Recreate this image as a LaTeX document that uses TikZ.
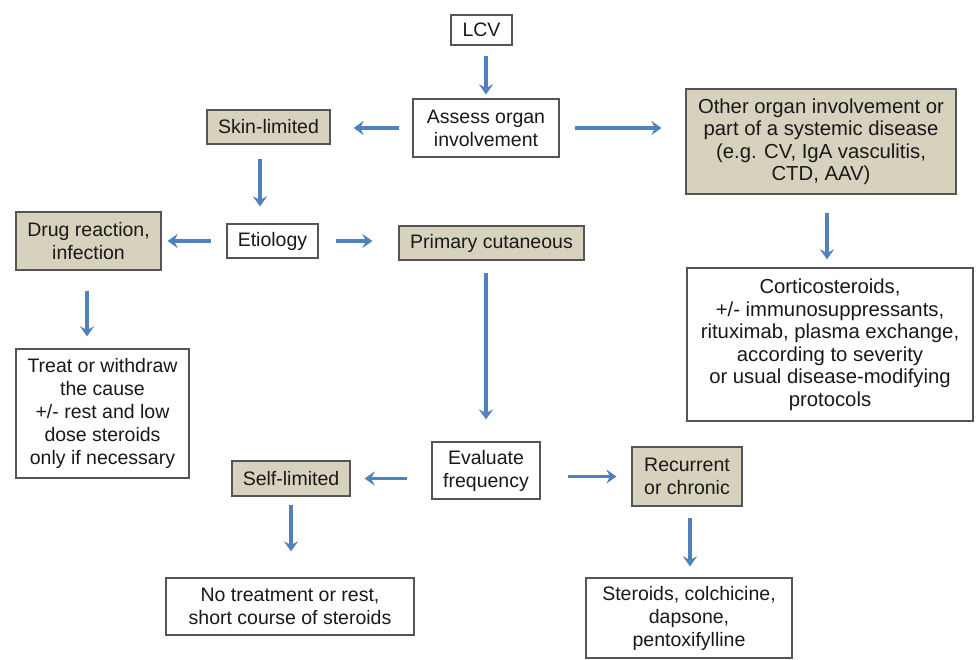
\documentclass[tikz,border=0pt]{standalone}
\usepackage{fontspec}
\setmainfont{Liberation Sans}
\usetikzlibrary{arrows.meta}
\definecolor{tanfill}{RGB}{215,210,189}
\definecolor{boxline}{RGB}{85,85,85}
\definecolor{arrowblue}{RGB}{79,129,189}
\definecolor{txt}{RGB}{25,25,25}
\tikzset{
  plainbox/.style={draw=boxline, line width=1.2pt, fill=white, inner sep=0pt, align=center, text=txt,
    font=\fontsize{19.5}{23}\selectfont},
  tanbox/.style={plainbox, fill=tanfill},
  bigtext/.style={font=\fontsize{20.3}{22.5}\selectfont},
  flow/.style={draw=arrowblue, line width=3.2pt, -{Stealth[length=10pt,width=14pt,inset=3.5pt]}}
}
\begin{document}
\begin{tikzpicture}[x=1pt,y=-1pt]
\useasboundingbox (0,0) rectangle (976,659);
\node[plainbox, minimum width=61pt, minimum height=30pt] (lcv) at (481.5,30) {LCV};
\node[plainbox, minimum width=146pt, minimum height=58pt] (assess) at (486,128) {Assess organ\\involvement};
\node[tanbox, bigtext, minimum width=270pt, minimum height=105pt] (other) at (821,141.5) {Other organ involvement or\\part of a systemic disease\\(e.g. CV, IgA vasculitis,\\CTD, AAV)};
\node[plainbox, bigtext, minimum width=286pt, minimum height=153pt] (cortico) at (830,344.5) {Corticosteroids,\\+/- immunosuppressants,\\rituximab, plasma exchange,\\according to severity\\or usual disease-modifying\\protocols};
\node[tanbox, minimum width=123pt, minimum height=34pt] (skin) at (268.5,127) {Skin-limited};
\node[plainbox, minimum width=91pt, minimum height=34pt] (etio) at (272.5,241) {Etiology};
\node[tanbox, minimum width=145pt, minimum height=58pt] (drug) at (88.5,241) {Drug reaction,\\infection};
\node[tanbox, minimum width=185pt, minimum height=34pt] (primary) at (491.5,243) {Primary cutaneous};
\node[plainbox, minimum width=173pt, minimum height=129pt] (treat) at (102.5,413.5) {Treat or withdraw\\the cause\\+/- rest and low\\dose steroids\\only if necessary};
\node[plainbox, minimum width=108pt, minimum height=57pt] (evaluate) at (486,470.5) {Evaluate\\frequency};
\node[tanbox, minimum width=118pt, minimum height=35pt] (self) at (291,478.5) {Self-limited};
\node[plainbox, minimum width=248pt, minimum height=57pt] (notreat) at (290,606.5) {No treatment or rest,\\short course of steroids};
\node[tanbox, minimum width=110pt, minimum height=59pt] (recurrent) at (687,476.5) {Recurrent\\or chronic};
\node[plainbox, minimum width=206pt, minimum height=80pt] (steroids) at (689,618) {Steroids, colchicine,\\dapsone,\\pentoxifylline};

\draw[flow, shorten <=10pt, shorten >=4pt] (lcv.south -| assess.north) -- (assess.north);
\draw[flow, shorten <=15pt, shorten >=24pt] (assess.east) -- (assess.east -| other.west);
\draw[flow, shorten <=13pt, shorten >=23pt] (assess.west) -- (assess.west -| skin.east);
\draw[flow, shorten <=18pt, shorten >=8pt] ([xshift=6pt]other.south) -- ([xshift=6pt]other.south |- cortico.north);
\draw[flow, shorten <=14pt, shorten >=17pt] ([xshift=-8.5pt]skin.south) -- ([xshift=-8.5pt]skin.south |- etio.north);
\draw[flow, shorten <=15pt, shorten >=6pt] (etio.west) -- (etio.west -| drug.east);
\draw[flow, shorten <=17pt, shorten >=26pt] (etio.east) -- (etio.east -| primary.west);
\draw[flow, shorten <=20pt, shorten >=12pt] ([xshift=-1.5pt]drug.south) -- ([xshift=-1.5pt]drug.south |- treat.north);
\draw[flow, shorten <=12pt, shorten >=22pt] (primary.south -| evaluate.north) -- (evaluate.north);
\draw[flow, shorten <=24pt, shorten >=14pt] (evaluate.west |- self.east) -- (self.east);
\draw[flow, shorten <=27pt, shorten >=15pt] (evaluate.east |- recurrent.west) -- (recurrent.west);
\draw[flow, shorten <=8pt, shorten >=26pt] (self.south) -- (self.south |- notreat.north);
\draw[flow, shorten <=11pt, shorten >=11pt] ([xshift=3pt]recurrent.south) -- ([xshift=3pt]recurrent.south |- steroids.north);
\end{tikzpicture}
\end{document}
